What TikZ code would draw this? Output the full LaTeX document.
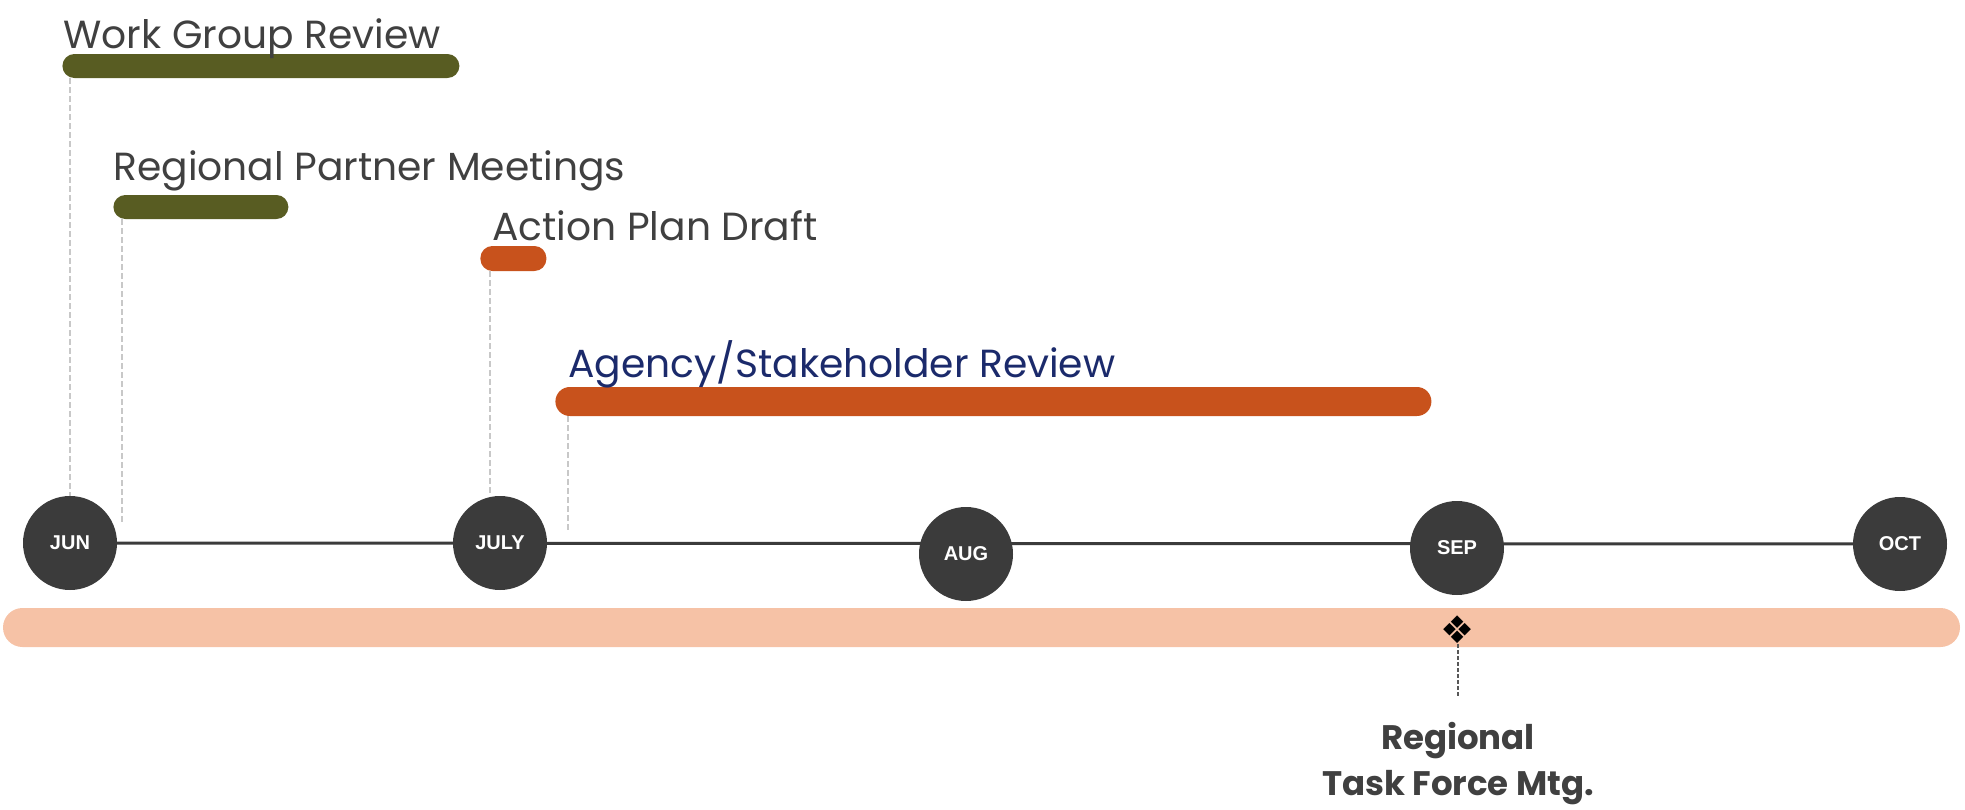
\documentclass[tikz,border=0pt]{standalone}
\usepackage{fontspec}
\setmainfont{Poppins}
\newfontfamily\monthfont{Liberation Sans}
\newfontfamily\symfont{DejaVu Sans}
\usetikzlibrary{backgrounds}
\definecolor{barolive}{HTML}{585C22}
\definecolor{barorange}{HTML}{C8521C}
\definecolor{labelnavy}{HTML}{1B2A6B}
\definecolor{monthgray}{HTML}{3B3B3B}
\definecolor{textgray}{HTML}{404040}
\definecolor{leadgray}{HTML}{C8C8C8}
\definecolor{bandpink}{HTML}{F6C2A6}
\begin{document}
\begin{tikzpicture}[x=0.5pt,y=-0.5pt,line join=round,line cap=round,
	month/.style={circle,fill=monthgray,minimum size=47pt,inner sep=0pt,text=white,font=\monthfont\bfseries\fontsize{10}{10}\selectfont},
	bar/.style={rectangle,rounded corners=6pt,minimum height=12pt,inner sep=0pt,anchor=west},
	tasklabel/.style={anchor=base west,inner sep=0pt,text=textgray,font=\fontsize{19.6}{22}\selectfont},
	lead/.style={draw=leadgray,line width=1pt,dash pattern=on 3pt off 1.5pt,line cap=butt}]
	\useasboundingbox (0,0) rectangle (1965,809);
	% months
	\foreach \n/\x/\y/\t in {jun/70/543/JUN,july/500/543/JULY,aug/966/554/AUG,sep/1457/548/SEP,oct/1900/544/OCT}
	\node[month] (\n) at (\x,\y) {\t};
	\begin{scope}[on background layer]
		\draw[monthgray,line width=1.5pt] (jun.center) -- (oct.center);
	\end{scope}
	% bars
	\node[bar,fill=barolive,minimum width=198.5pt] (wg) at (62,66) {};
	\node[bar,fill=barolive,minimum width=87.5pt] (rpm) at (113,207) {};
	\node[bar,fill=barorange,minimum width=33pt,minimum height=12.5pt] (apd) at (480,258.5) {};
	\node[bar,fill=barorange,minimum width=438pt,minimum height=14.5pt,rounded corners=7.25pt] (asr) at (555,401.5) {};
	\node[tasklabel] (wgtxt) at (63,48) {Work Group Review};
	\node[tasklabel] (rpmtxt) at (113,180) {Regional Partner Meetings};
	\node[tasklabel] (apdtxt) at (492,240) {Action Plan Draft};
	\node[tasklabel,text=labelnavy] (asrtxt) at (568,377) {Agency/Stakeholder Review};
	% leaders
	\path (122,523) coordinate (rpmend)
	(490,494) coordinate (apdend)
	(568,532) coordinate (asrend);
	\draw[lead] (jun.north |- wg.south) -- (jun.north);
	\draw[lead] (rpmend |- rpm.south) -- (rpmend);
	\draw[lead] (apdend |- apd.south) -- (apdend);
	\draw[lead] (asrend |- asr.south) -- (asrend);
	% band and milestone
	\node[rectangle,fill=bandpink,minimum width=978.5pt,minimum height=19.5pt,rounded corners=9.75pt,inner sep=0pt] (band) at (981.5,627.5) {};
	\node[inner sep=0pt,font=\symfont\fontsize{19}{19}\selectfont] (diam) at (1458,630) {❖};
	\node[anchor=north,align=center,inner sep=0pt,text=textgray,font=\bfseries\fontsize{17}{23}\selectfont] (tfm) at (1458,722) {Regional\\Task Force Mtg.};
	\draw[monthgray!85,line width=1pt,dash pattern=on 2pt off 1pt,line cap=butt] (diam.south) -- ++(0,52);
\end{tikzpicture}
\end{document}
